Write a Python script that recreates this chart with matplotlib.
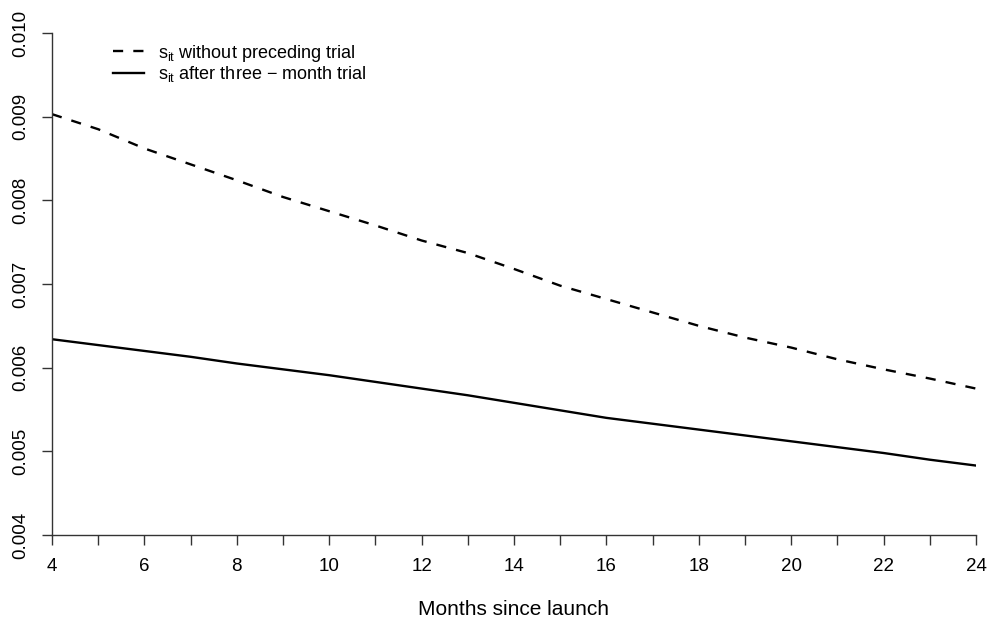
import matplotlib
matplotlib.use("Agg")
import matplotlib.pyplot as plt

plt.rcParams['font.family'] = ['Liberation Sans', 'DejaVu Sans']
plt.rcParams['mathtext.fontset'] = 'custom'
plt.rcParams['mathtext.rm'] = 'Liberation Sans'
plt.rcParams['mathtext.it'] = 'Liberation Sans'

months = list(range(4, 25))
no_trial = [0.00903, 0.00885, 0.00862, 0.00843, 0.00824, 0.00804, 0.00787,
            0.00770, 0.00752, 0.00737, 0.00718, 0.00698, 0.00682, 0.00666,
            0.00650, 0.00636, 0.00624, 0.00610, 0.00598, 0.00587, 0.00575]
after_trial = [0.00634, 0.00627, 0.00620, 0.00613, 0.00605, 0.00598, 0.00591,
               0.00583, 0.00575, 0.00567, 0.00558, 0.00549, 0.00540, 0.00533,
               0.00526, 0.00519, 0.00512, 0.00505, 0.00498, 0.00490, 0.00483]
x_major = list(range(4, 25, 2))
x_minor = list(range(5, 25, 2))
y_ticks = [0.004, 0.005, 0.006, 0.007, 0.008, 0.009, 0.010]
labels = [r'$\mathrm{s_{it}}$ without preceding trial',
          r'$\mathrm{s_{it}}$ after three $-$ month trial']
xlabel = 'Months since launch'

fig = plt.figure(figsize=(9.92, 6.30), dpi=100)
ax = fig.add_axes([52/992, 95/630, (976-52)/992, (535-33)/630])

ax.plot(months, no_trial, color='black', lw=1.7, linestyle=(0, (4.3, 4.3)),
        label=labels[0])
ax.plot(months, after_trial, color='black', lw=1.7, linestyle='-',
        label=labels[1])

ax.set_xlim(4, 24)
ax.set_ylim(0.004, 0.010)
for s in ['top', 'right']:
    ax.spines[s].set_visible(False)
for s in ['left', 'bottom']:
    ax.spines[s].set_color('#333333')
    ax.spines[s].set_linewidth(1.0)

ax.set_xticks(x_major)
ax.set_xticks(x_minor, minor=True)
ax.set_xticklabels([str(v) for v in x_major])
ax.set_yticks(y_ticks)
ax.set_yticklabels([f'{v:.3f}' for v in y_ticks], rotation=90, va='center')
ax.tick_params(axis='both', which='both', direction='out', length=7.5,
               width=1.0, color='#333333', labelsize=13.5, pad=9)
ax.tick_params(axis='x', which='minor', labelbottom=False)

ax.set_xlabel(xlabel, fontsize=15, labelpad=18)

leg = ax.legend(loc='upper left', bbox_to_anchor=(0.058, 0.995), frameon=False,
                fontsize=13, handlelength=1.75, handletextpad=0.75,
                labelspacing=0.02, borderaxespad=0)

fig.savefig('out.png', dpi=100)
